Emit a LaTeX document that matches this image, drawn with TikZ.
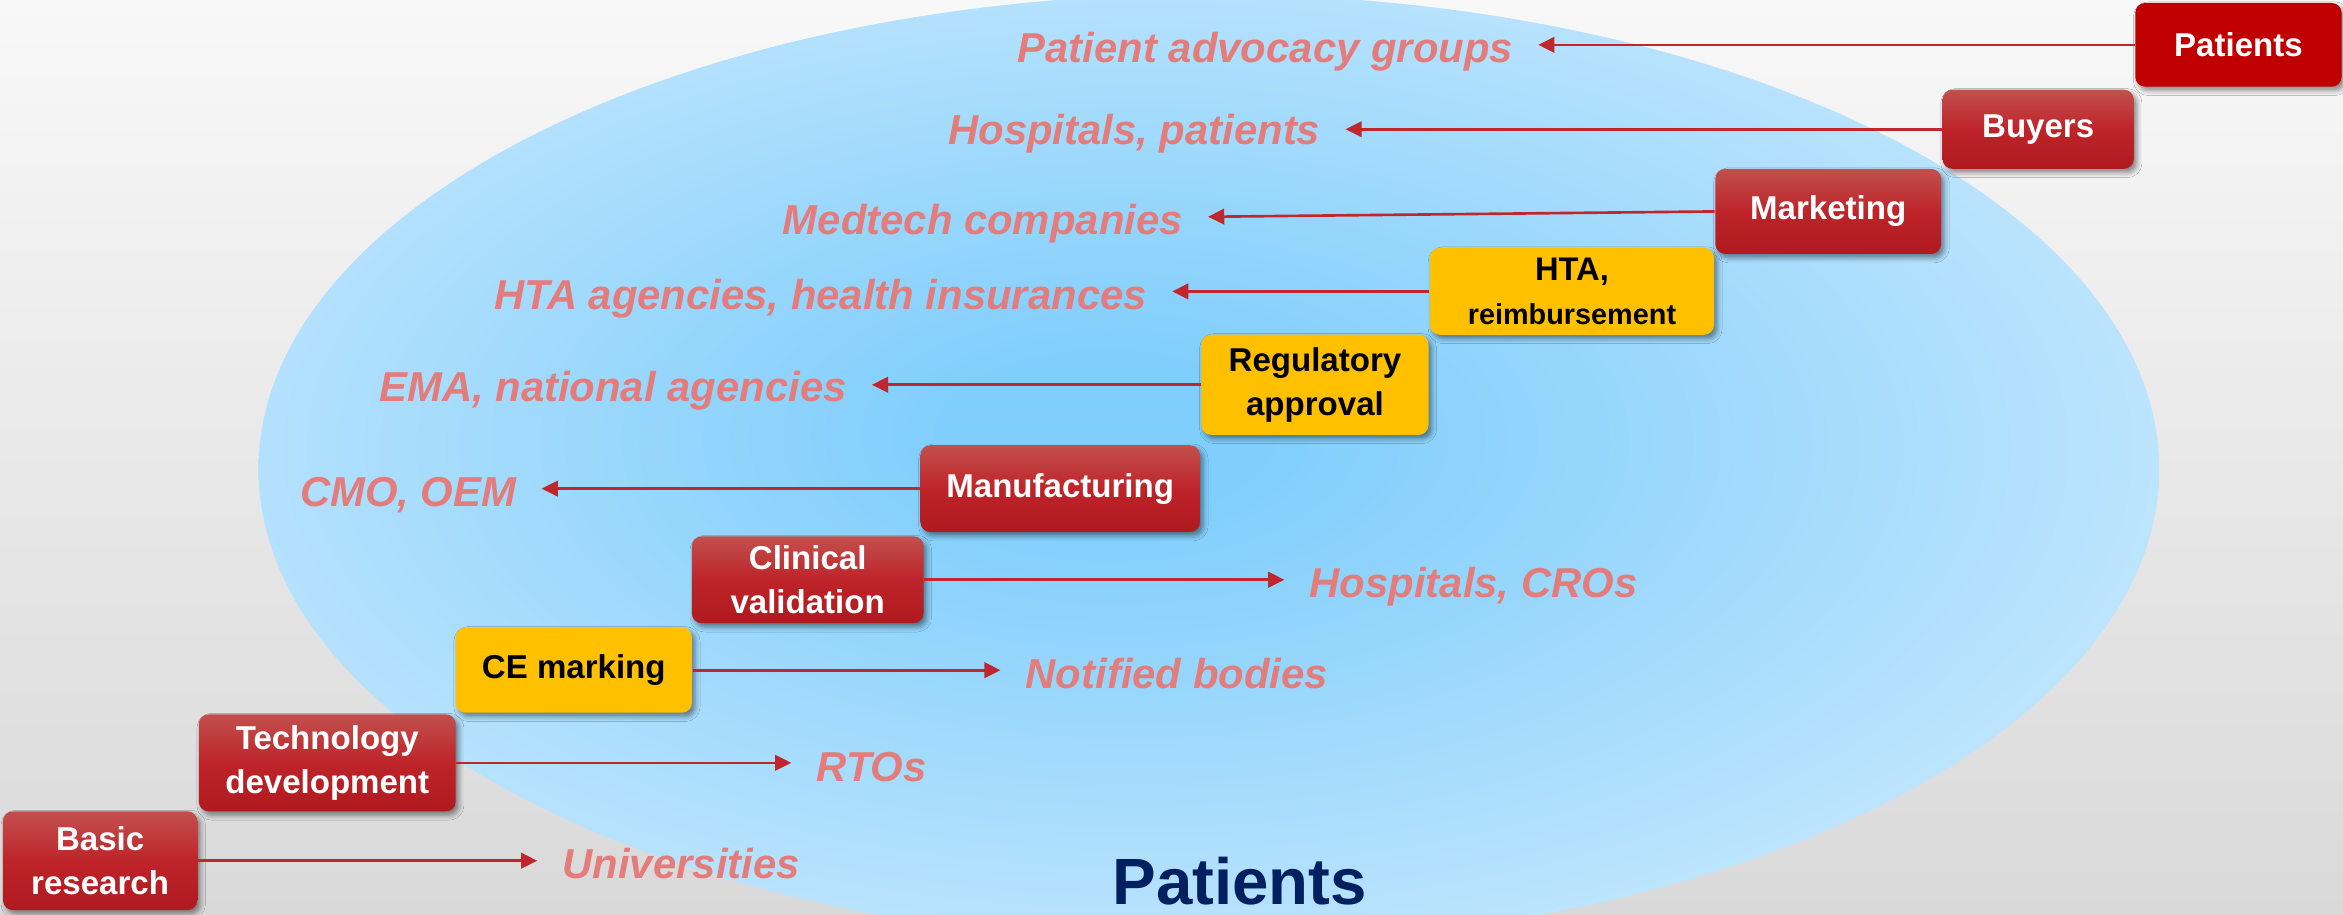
\documentclass[tikz,border=0pt]{standalone}
\usepackage{fontspec}
\setmainfont{Liberation Sans}
\usetikzlibrary{arrows.meta,shadows.blur,calc}
\definecolor{bgtop}{RGB}{248,248,248}
\definecolor{bgbot}{RGB}{217,217,217}
\definecolor{ellin}{RGB}{128,206,252}
\definecolor{ellout}{RGB}{210,236,253}
\definecolor{redtop}{RGB}{194,80,77}
\definecolor{redmid}{RGB}{190,36,42}
\definecolor{redbot}{RGB}{175,26,31}
\definecolor{darkred}{RGB}{192,0,0}
\definecolor{gold}{RGB}{255,192,0}
\definecolor{pinklbl}{RGB}{228,124,124}
\definecolor{arrred}{RGB}{192,39,45}
\definecolor{navy}{RGB}{0,32,96}
\pgfdeclareradialshading{ellshade}{\pgfpoint{-3bp}{2bp}}{color(0bp)=(ellin); color(4bp)=(ellin); color(35bp)=(ellout); color(50bp)=(ellout)}
\begin{document}
\begin{tikzpicture}[x=0.014943cm,y=-0.014943cm,
  box/.style={rounded corners=2.8pt, inner sep=0pt, align=center,
    font=\bfseries\fontsize{9.4}{12.6}\selectfont,
    blur shadow={shadow xshift=0.9pt, shadow yshift=-1.1pt, shadow blur radius=1.4pt, shadow opacity=45}},
  redbox/.style={box, text=white, top color=redtop, bottom color=redbot, middle color=redmid},
  flatred/.style={box, text=white, fill=darkred},
  yelbox/.style={box, text=black, fill=gold},
  lbl/.style={font=\bfseries\itshape\fontsize{11.9}{14}\selectfont, text=pinklbl, inner sep=0pt},
  arr/.style={draw=arrred, line width=0.75pt, -{Triangle[length=4.6pt,width=4.4pt]}, shorten >=7pt}]
\useasboundingbox (0,0) rectangle (1568,612);
\begin{scope}
  \clip (0,0) rectangle (1568,612);
  \shade[top color=bgtop,bottom color=bgbot] (0,0) rectangle (1568,612);
  \shade[shading=ellshade] (809,314) ellipse [x radius=636, y radius=318];
\end{scope}

% boxes
\node[flatred, minimum width=58.7pt, minimum height=23.8pt] (pat) at (1498,30) {Patients};
\node[redbox, minimum width=54.4pt, minimum height=22.5pt] (buy) at (1364,86.5) {Buyers};
\node[redbox, minimum width=64.2pt, minimum height=24.2pt] (mkt) at (1223.5,141.5) {Marketing};
\node[yelbox, minimum width=80.8pt, minimum height=24.7pt] (hta) at (1052,195)
  {{\fontsize{9.3}{10.8}\selectfont HTA,}\\{\fontsize{8.2}{10.8}\selectfont reimbursement}};
\node[yelbox, minimum width=64.6pt, minimum height=28.5pt] (reg) at (880,257.5) {Regulatory\\approval};
\node[redbox, minimum width=79.5pt, minimum height=24.7pt] (man) at (709.5,327) {Manufacturing};
\node[redbox, minimum width=65.9pt, minimum height=24.7pt] (cli) at (540.5,388) {Clinical\\validation};
\node[yelbox, minimum width=67.2pt, minimum height=24.2pt] (ce) at (384,448.5) {CE marking};
\node[redbox, minimum width=73.1pt, minimum height=27.6pt] (tech) at (219,510.5) {Technology\\development};
\node[redbox, minimum width=55.3pt, minimum height=28.1pt] (basic) at (67,576) {Basic\\research};

% labels
\node[lbl, anchor=base east] (adv) at (1013,42) {Patient advocacy groups};
\node[lbl, anchor=base east] (hosp) at (884,97) {Hospitals, patients};
\node[lbl, anchor=base east] (med) at (792,157) {Medtech companies};
\node[lbl, anchor=base east] (htaag) at (768,207) {HTA agencies, health insurances};
\node[lbl, anchor=base east] (ema) at (567,269) {EMA, national agencies};
\node[lbl, anchor=base east] (cmo) at (346,339) {CMO, OEM};
\node[lbl, anchor=base west] (cro) at (876,400) {Hospitals, CROs};
\node[lbl, anchor=base west] (nb) at (686,461) {Notified bodies};
\node[lbl, anchor=base west] (rto) at (546,523) {RTOs};
\node[lbl, anchor=base west] (uni) at (376,588) {Universities};

\node[font=\bfseries\fontsize{18.6}{20}\selectfont, text=navy, inner sep=0pt, anchor=base west] (big) at (744,605) {Patients};

% arrows
\draw[arr] (pat.west) -- (pat.west -| adv.east);
\draw[arr] (buy.west) -- (buy.west -| hosp.east);
\draw[arr] (mkt.west) -- ([yshift=5pt]med.base east);
\draw[arr] (hta.west) -- (hta.west -| htaag.east);
\draw[arr] (reg.west) -- (reg.west -| ema.east);
\draw[arr] (man.west) -- (man.west -| cmo.east);
\draw[arr] (cli.east) -- (cli.east -| cro.west);
\draw[arr] (ce.east) -- (ce.east -| nb.west);
\draw[arr] (tech.east) -- (tech.east -| rto.west);
\draw[arr] (basic.east) -- (basic.east -| uni.west);
\end{tikzpicture}
\end{document}
